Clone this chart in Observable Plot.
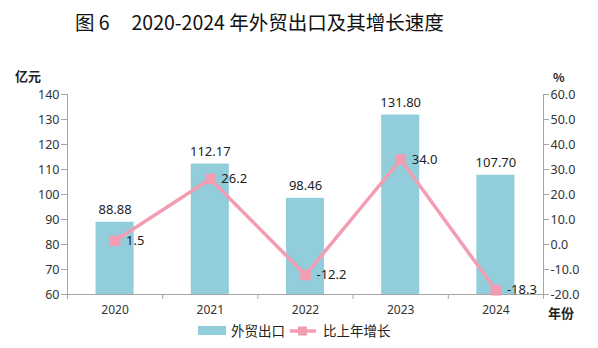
<!DOCTYPE html>
<html>
<head>
<meta charset="utf-8">
<script src="https://cdn.jsdelivr.net/npm/d3@7"></script>
<script src="https://cdn.jsdelivr.net/npm/@observablehq/plot@0.6"></script>
<style>
  html, body { margin: 0; padding: 0; background: #fff; }
  #wrap { position: relative; width: 598px; height: 348px; font-family: "Noto Sans CJK SC", "Noto Sans", sans-serif; color: #222; }
  #wrap > svg { position: absolute; left: 0; top: 0; }
  .abs { position: absolute; white-space: pre; line-height: 1; }
  #title { left: 75px; top: 12px; font-size: 19.5px; font-weight: 400; color: #111; }
  #legend { position: absolute; left: 198px; top: 324px; display: flex; align-items: center; font-size: 13.5px; line-height: 1; color: #222; }
</style>
</head>
<body>
<div id="wrap">
  <div id="title" class="abs">图 6     2020-2024 年外贸出口及其增长速度</div>
  <div class="abs" style="left:15px;top:69px;font-size:13px;font-weight:700;">亿元</div>
  <div class="abs" style="left:553px;top:71px;font-size:12px;font-weight:700;">%</div>
  <div class="abs" style="left:548px;top:306px;font-size:13px;font-weight:700;">年份</div>
  <div id="legend"></div>
</div>
<script>
const years = [2020, 2021, 2022, 2023, 2024];
const exportValues = [88.88, 112.17, 98.46, 131.80, 107.70];
const growthRates = [1.5, 26.2, -12.2, 34.0, -18.3];
const leftTicks = [60, 70, 80, 90, 100, 110, 120, 130, 140];
const rightTicks = [-20, -10, 0, 10, 20, 30, 40, 50, 60];
const seriesNames = ["外贸出口", "比上年增长"];

const barColor = "#92CDDC";
const lineColor = "#F29DB2";
const axisColor = "#A6A6A6";
const textColor = "#333";

// right axis (-20..60) mapped onto left axis (60..140)
const offset = 80;
const xDomain = [years[0] - 0.5, years[years.length - 1] + 0.5];
const bounds = d3.range(xDomain[0], xDomain[1] + 0.01, 1);

const data = years.map((year, i) => ({year, value: exportValues[i], growth: growthRates[i], gy: growthRates[i] + offset}));

const chart = Plot.plot({
  width: 598,
  height: 348,
  marginTop: 94,
  marginBottom: 54,
  marginLeft: 67,
  marginRight: 55,
  x: {type: "linear", domain: xDomain},
  y: {domain: [leftTicks[0], leftTicks[leftTicks.length - 1]]},
  style: {fontFamily: "'Noto Sans', sans-serif", fontSize: "12px", color: textColor, background: "transparent"},
  marks: [
    Plot.rectY(data, {x1: d => d.year - 0.2, x2: d => d.year + 0.2, y1: leftTicks[0], y2: "value", fill: barColor}),
    Plot.ruleX([xDomain[0]], {stroke: axisColor, strokeWidth: 1}),
    Plot.ruleX([xDomain[1]], {stroke: axisColor, strokeWidth: 1}),
    Plot.ruleY([leftTicks[0]], {stroke: axisColor, strokeWidth: 1.2}),
    Plot.axisY({anchor: "left", ticks: leftTicks, tickSize: 6, tickPadding: 2, stroke: axisColor, fill: textColor, fontSize: 12.5, label: null}),
    Plot.axisY({anchor: "right", ticks: rightTicks.map(v => v + offset), tickSize: 5, tickPadding: 2, tickFormat: d => (d - offset).toFixed(1), stroke: axisColor, fill: textColor, fontSize: 12.5, label: null}),
    Plot.axisX({anchor: "bottom", ticks: bounds, tickSize: 5, tickFormat: () => "", stroke: axisColor, label: null}),
    Plot.axisX({anchor: "bottom", ticks: years, tickSize: 0, tickPadding: 11, tickFormat: d => String(d), fill: textColor, fontSize: 12, label: null}),
    Plot.line(data, {x: "year", y: "gy", stroke: lineColor, strokeWidth: 3.5}),
    Plot.dot(data, {x: "year", y: "gy", symbol: "square", r: 6, fill: lineColor, stroke: "none"}),
    Plot.text(data, {x: "year", y: "value", text: d => d.value.toFixed(2), lineAnchor: "bottom", dy: -8, fill: "#222", fontSize: 13}),
    Plot.text(data, {x: "year", y: "gy", text: d => d.growth.toFixed(1), textAnchor: "start", dx: 11, fill: "#222", fontSize: 13})
  ]
});
document.getElementById("wrap").appendChild(chart);

// legend
const legend = d3.select("#legend");
const item1 = legend.append("div").style("display", "flex").style("align-items", "center");
item1.append("span").style("display", "inline-block").style("width", "28px").style("height", "9px").style("background", barColor).style("margin-right", "5px");
item1.append("span").text(seriesNames[0]);
const item2 = legend.append("div").style("display", "flex").style("align-items", "center").style("margin-left", "5px");
const sw = item2.append("svg").attr("width", 26).attr("height", 12).style("margin-right", "7px").style("display", "block");
sw.append("line").attr("x1", 0).attr("x2", 26).attr("y1", 6).attr("y2", 6).attr("stroke", lineColor).attr("stroke-width", 3.5);
sw.append("rect").attr("x", 8).attr("y", 1.5).attr("width", 9).attr("height", 9).attr("fill", lineColor);
item2.append("span").text(seriesNames[1]);
</script>
</body>
</html>
